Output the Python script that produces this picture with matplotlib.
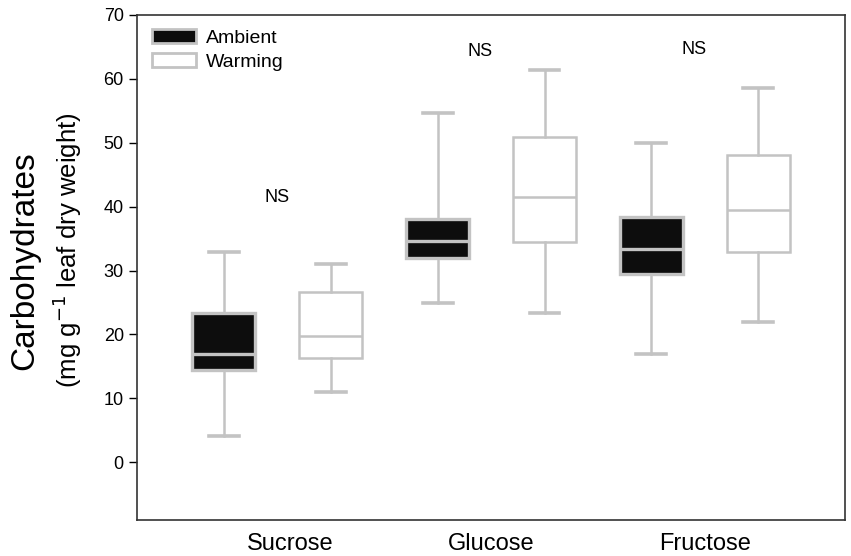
import matplotlib.pyplot as plt
from matplotlib.patches import Patch

plt.rcParams['font.family'] = ['Liberation Sans', 'DejaVu Sans']

# data
sugars = ['Sucrose', 'Glucose', 'Fructose']
treatments = ['Ambient', 'Warming']
whislo = [[4.1, 11.0], [25.0, 23.4], [16.9, 22.0]]
q1 = [[14.5, 16.4], [31.9, 34.4], [29.5, 32.9]]
med = [[16.9, 19.8], [34.6, 41.5], [33.3, 39.5]]
q3 = [[23.3, 26.6], [38.1, 50.9], [38.3, 48.0]]
whishi = [[32.9, 31.0], [54.6, 61.3], [49.9, 58.5]]
ns_y = [41.4, 64.3, 64.5]

grey = '#c3c3c3'
fig = plt.figure(figsize=(8.51, 5.56), dpi=100)
ax = fig.add_axes([0.161, 0.0647, 0.832, 0.909])

for j, tr in enumerate(treatments):
    stats = []
    for i in range(len(sugars)):
        stats.append(dict(whislo=whislo[i][j], q1=q1[i][j], med=med[i][j],
                          q3=q3[i][j], whishi=whishi[i][j], fliers=[]))
    pos = [i + 1 + (-0.25 if j == 0 else 0.25) for i in range(len(sugars))]
    face = '#0d0d0d' if j == 0 else 'white'
    lw = 2.4 if j == 0 else 1.8
    ax.bxp(stats, positions=pos, widths=0.295, patch_artist=True, showfliers=False,
           boxprops=dict(facecolor=face, edgecolor=grey, linewidth=lw),
           medianprops=dict(color=grey, linewidth=lw),
           whiskerprops=dict(color=grey, linewidth=1.8),
           capprops=dict(color=grey, linewidth=2.6),
           capwidths=0.14)

ns_x = [1.0, 1.95, 2.95]
for i in range(len(sugars)):
    ax.text(ns_x[i], ns_y[i], 'NS', ha='center', va='center', fontsize=13)

ax.set_xlim(0.345, 3.655)
ax.set_ylim(-9, 70)
ax.set_yticks(range(0, 71, 10))
ax.set_xticks([1.06, 2, 3])
ax.set_xticklabels(sugars, fontsize=17)
ax.tick_params(axis='x', length=0, pad=9)
ax.tick_params(axis='y', labelsize=13, length=6, width=1, direction='out')
for s in ax.spines.values():
    s.set_color('#333333')
    s.set_linewidth(1.2)

handles = [Patch(facecolor='#0d0d0d', edgecolor=grey, linewidth=2),
           Patch(facecolor='white', edgecolor=grey, linewidth=2)]
ax.legend(handles, treatments, loc='upper left', frameon=False, fontsize=14,
          handlelength=2.3, handleheight=0.75, handletextpad=0.5,
          borderaxespad=0.35, labelspacing=0.3)

fig.text(0.029, 0.532, 'Carbohydrates', rotation=90, ha='center', va='center', fontsize=24)
fig.text(0.079, 0.55, '(mg g$^{-1}$ leaf dry weight)', rotation=90, ha='center',
         va='center', fontsize=18.5)

fig.savefig('out.png', dpi=100)
